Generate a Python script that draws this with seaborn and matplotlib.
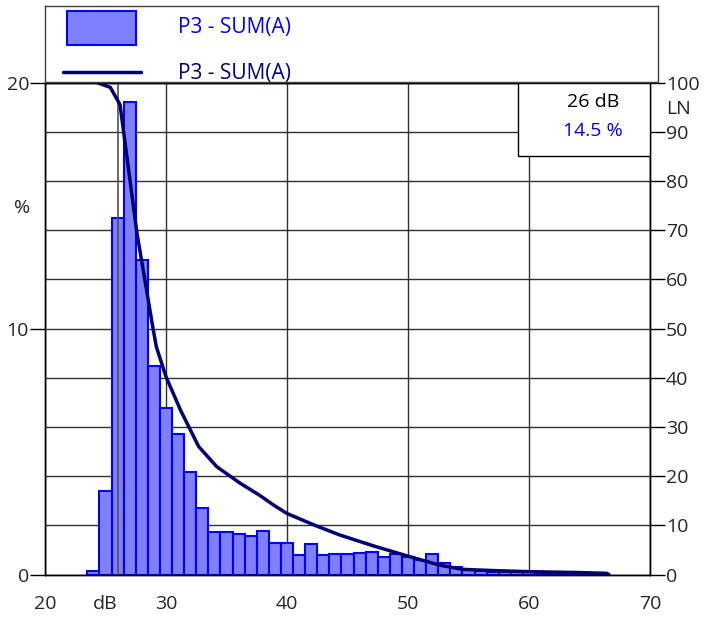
import matplotlib

matplotlib.use("Agg")
import matplotlib.pyplot as plt
import numpy as np
import pandas as pd
import seaborn as sns
from matplotlib.patches import Rectangle

# histogram: percent of time per 1 dB class (class centre in dB)
bin_db = list(range(24, 67))
bin_pct = [
    0.15, 3.39, 14.5, 19.2, 12.77, 8.46, 6.76, 5.72, 4.17, 2.69,
    1.71, 1.73, 1.66, 1.56, 1.77, 1.28, 1.28, 0.81, 1.25, 0.81,
    0.85, 0.85, 0.87, 0.90, 0.72, 0.85, 0.72, 0.59, 0.83, 0.45,
    0.32, 0.20, 0.13, 0.12, 0.11, 0.10, 0.09, 0.08, 0.07, 0.06,
    0.05, 0.04, 0.03,
]

# cumulative exceedance curve LN (%)
ln_db = [24.3, 25.4, 26.2, 27.6, 28.9, 29.2, 30.0, 31.2, 32.7, 34.2,
         36.1, 37.8, 38.9, 40.0, 42.4, 44.4, 47.1, 49.9, 52.6, 54.5,
         57.0, 60.1, 63.7, 66.4, 66.6]
ln_val = [100, 99.0, 95.5, 69.4, 50.4, 46.3, 40.2, 33.4, 26.0, 21.9,
          18.6, 16.0, 14.1, 12.4, 9.9, 8.0, 5.85, 3.8, 1.9, 1.05,
          0.8, 0.57, 0.42, 0.24, 0.0]

cursor_db = 26
series_name = "P3 - SUM(A)"

BAR_FACE = "#8080ff"
BAR_EDGE = "#0000ff"
LINE_COLOR = "#000070"
GRID = "#303030"
TICK_LEN = 10.8  # points (~15 px)


def main() -> None:
    sns.set_style("white")
    plt.rcParams["font.family"] = ["Open Sans", "DejaVu Sans"]

    hist_df = pd.DataFrame({"db": bin_db, "pct": bin_pct})
    ln_df = pd.DataFrame({"db": ln_db, "ln": ln_val})

    fig = plt.figure(figsize=(7.04, 6.19), dpi=100)
    W, H = 704, 619
    ax = fig.add_axes([45 / W, (H - 574.5) / H, 605 / W, 492 / H])

    sns.histplot(
        data=hist_df, x="db", weights="pct", binwidth=1,
        binrange=(bin_db[0] - 0.5, bin_db[-1] + 0.5), ax=ax,
        facecolor=BAR_FACE, edgecolor=BAR_EDGE, linewidth=1.5, alpha=1.0,
    )
    ax.axvline(cursor_db, color="#505050", lw=1.2, zorder=3)

    ax.set_xlim(20, 70)
    ax.set_ylim(0, 20)
    ax.set_xticks(range(20, 71, 10))
    ax.set_yticks([0, 10, 20])
    ax.set_yticks(np.arange(0, 21, 2), minor=True)
    ax.set_axisbelow(True)
    ax.grid(axis="x", which="major", color=GRID, lw=1)
    ax.grid(axis="y", which="both", color=GRID, lw=1)
    ax.tick_params(axis="both", which="major", length=TICK_LEN, width=1, color="black",
                   labelsize=14, direction="out")
    ax.tick_params(axis="x", pad=4)
    ax.tick_params(axis="y", pad=0.7)
    ax.tick_params(axis="y", which="minor", length=0)
    ax.set_xlabel("")
    ax.set_ylabel("")
    for sp in ax.spines.values():
        sp.set_color("black")
        sp.set_linewidth(1)

    ax.text(21.7 / W, 1 - 208 / H, "%", transform=fig.transFigure,
            ha="center", va="center", fontsize=14)
    ax.text(105 / W, 1 - 604 / H, "dB", transform=fig.transFigure,
            ha="center", va="center", fontsize=14)

    ax2 = ax.twinx()
    sns.lineplot(data=ln_df, x="db", y="ln", ax=ax2, color=LINE_COLOR, lw=2.5, sort=False)
    ax2.set_ylim(0, 100)
    ax2.set_yticks(range(0, 101, 10))
    ax2.tick_params(axis="y", length=TICK_LEN, width=1, color="black", labelsize=14, pad=0.7)
    ax2.set_ylabel("")
    for sp in ax2.spines.values():
        sp.set_color("black")
        sp.set_linewidth(1)
    ax2.text(666 / W, 1 - 109 / H, "LN", transform=fig.transFigure,
             ha="left", va="center", fontsize=14)

    # cursor readout box
    cursor_pct = bin_pct[bin_db.index(cursor_db)]
    ax2.add_patch(Rectangle((0.782, 0.8506), 0.218, 0.1494, transform=ax2.transAxes,
                            facecolor="white", edgecolor="black", lw=1, zorder=5))
    ax2.text(0.906, 0.961, f"{cursor_db} dB", transform=ax2.transAxes,
             ha="center", va="center", fontsize=14, color="black", zorder=6)
    ax2.text(0.906, 0.901, f"{cursor_pct} %", transform=ax2.transAxes,
             ha="center", va="center", fontsize=14, color="#0000ff", zorder=6)

    # legend panel above the plot
    lg = fig.add_axes([45 / W, (H - 82) / H, 613 / W, 76 / H])
    lg.set_xlim(0, 613)
    lg.set_ylim(76, 0)
    lg.set_xticks([])
    lg.set_yticks([])
    for sp in lg.spines.values():
        sp.set_color("#404040")
        sp.set_linewidth(1)
    lg.add_patch(Rectangle((22, 5), 69, 34, facecolor=BAR_FACE, edgecolor=BAR_EDGE, lw=1.5))
    lg.plot([18, 96], [66, 66], color=LINE_COLOR, lw=2.5)
    lg.text(133, 21, series_name, ha="left", va="center", fontsize=15, color="#0000ff")
    lg.text(133, 67, series_name, ha="left", va="center", fontsize=15, color="#000080")

    fig.savefig("out.png", dpi=100)
    plt.close(fig)


if __name__ == "__main__":
    main()
